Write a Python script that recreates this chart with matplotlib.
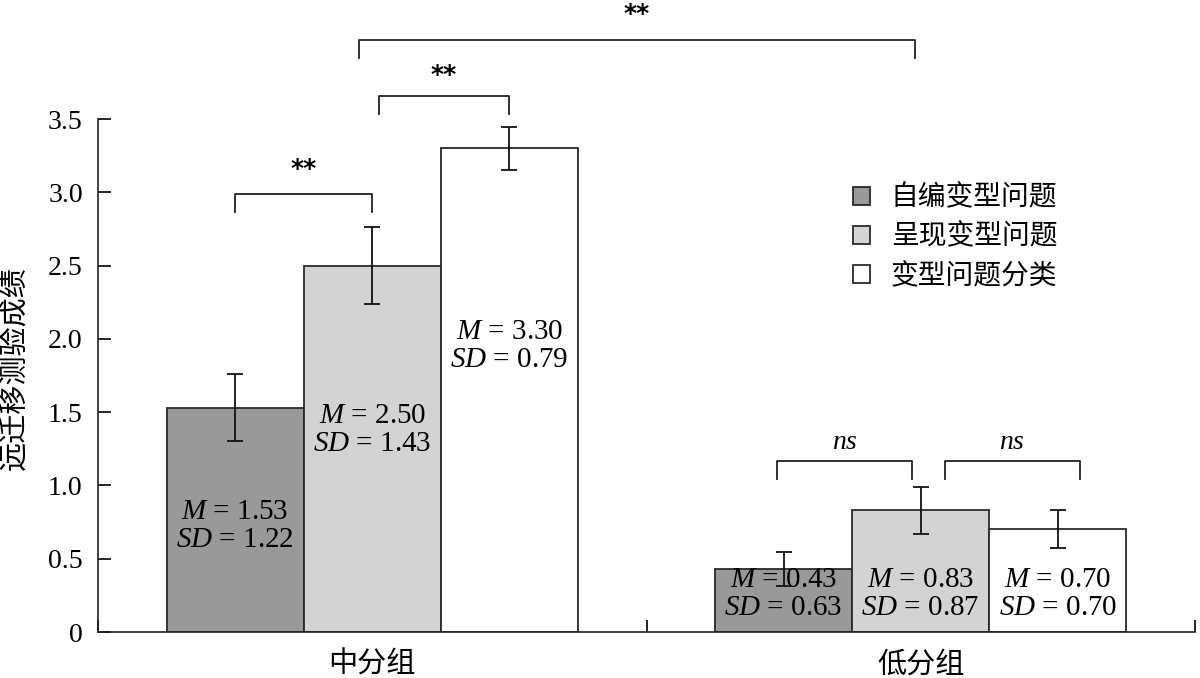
import matplotlib
matplotlib.use("Agg")
import matplotlib.pyplot as plt
import numpy as np

# ---- data ----
groups = ['中分组', '低分组']
series = ['自编变型问题', '呈现变型问题', '变型问题分类']
mean_self = [1.53, 0.43]
mean_present = [2.50, 0.83]
mean_classify = [3.30, 0.70]
sd_self = [1.22, 0.63]
sd_present = [1.43, 0.87]
sd_classify = [0.79, 0.70]
err_self = [0.23, 0.115]
err_present = [0.26, 0.16]
err_classify = [0.145, 0.13]
y_ticks = [0, 0.5, 1.0, 1.5, 2.0, 2.5, 3.0, 3.5]
y_tick_labels = ['0', '0.5', '1.0', '1.5', '2.0', '2.5', '3.0', '3.5']
y_label = '远迁移测验成绩'

# ---- style ----
plt.rcParams['font.family'] = ['Liberation Serif', 'Noto Sans CJK SC', 'DejaVu Sans']
plt.rcParams['mathtext.fontset'] = 'custom'
plt.rcParams['mathtext.it'] = 'Liberation Serif:italic'
plt.rcParams['mathtext.rm'] = 'Liberation Serif'
colors = ['#999999', '#d3d3d3', '#ffffff']
edge = '#2a2a2a'
cjk = ['Noto Sans CJK SC', 'DejaVu Sans']

fig = plt.figure(figsize=(12, 6.78), dpi=100)
ax = fig.add_axes([98/1200, 46/678, 1097/1200, 513/678])

means = [mean_self, mean_present, mean_classify]
sds = [sd_self, sd_present, sd_classify]
errs = [err_self, err_present, err_classify]
width = 0.25
x = np.arange(len(groups))
label_y = [[0.72, 0.26], [1.38, 0.26], [1.95, 0.26]]

for j in range(3):
    xs = x + (j - 1) * width
    ax.bar(xs, means[j], width=width, color=colors[j], edgecolor=edge,
           linewidth=1.3, label=series[j], zorder=2)
    for i in range(len(groups)):
        ax.text(xs[i], label_y[j][i],
                f'$M$ = {means[j][i]:.2f}\n$SD$ = {sds[j][i]:.2f}',
                ha='center', va='center', fontsize=21, linespacing=1.1,
                zorder=3)
    ax.errorbar(xs, means[j], yerr=errs[j], fmt='none', ecolor='#111111',
                elinewidth=1.3, capsize=5.5, capthick=1.3, zorder=4)

def bx(g, s):
    return g + (s - 1) * width

leg = 0.125
brackets = [
    (bx(0, 0), bx(0, 1), 2.99, 3.11, '**'),
    (bx(0, 1) + 0.012, bx(0, 2), 3.66, 3.755, '**'),
    (bx(0, 1) - 0.025, bx(1, 1) - 0.01, 4.04, 4.17, '**'),
    (bx(1, 0) - 0.012, bx(1, 1) - 0.016, 1.17, 1.29, 'ns'),
    (bx(1, 1) + 0.044, bx(1, 2) + 0.04, 1.17, 1.29, 'ns'),
]
for x1, x2, yb, yt, lab in brackets:
    ax.plot([x1, x1, x2, x2], [yb - leg, yb, yb, yb - leg], color='#222222',
            linewidth=1.3, clip_on=False, zorder=5)
    if lab == 'ns':
        ax.text((x1 + x2) / 2, yt, '$ns$', ha='center', va='center',
                fontsize=20, clip_on=False)
    else:
        ax.text((x1 + x2) / 2, yt, lab, ha='center', va='baseline',
                fontsize=18, fontweight='bold', family='DejaVu Sans',
                clip_on=False)

ax.set_xlim(-0.5, 1.5)
ax.set_ylim(0, 3.5)
ax.set_yticks(y_ticks)
ax.set_yticklabels(y_tick_labels, fontsize=20)
ax.tick_params(axis='y', direction='in', length=9, width=1.2, pad=11)
ax.set_xticks([-0.5, 0.5, 1.5])
ax.set_xticklabels(['', '', ''])
ax.tick_params(axis='x', which='major', direction='in', length=9, width=1.2)
ax.set_xticks(x, minor=True)
ax.set_xticklabels(groups, minor=True, fontsize=21, family=cjk)
ax.tick_params(axis='x', which='minor', length=0, pad=13)
for s in ['top', 'right']:
    ax.spines[s].set_visible(False)
for s in ['left', 'bottom']:
    ax.spines[s].set_linewidth(1.2)
    ax.spines[s].set_color('#222222')

ax.set_ylabel(y_label, fontsize=21, family=cjk, va='center')
ax.yaxis.set_label_coords(-0.0766, 0.515)

lg = ax.legend(loc='upper left', bbox_to_anchor=(0.688, 0.876), frameon=False,
               prop={'family': cjk, 'size': 20}, handlelength=0.62,
               handleheight=0.62, handletextpad=0.75, labelspacing=0.33,
               borderpad=0, borderaxespad=0)

fig.savefig('out.png', dpi=100)
